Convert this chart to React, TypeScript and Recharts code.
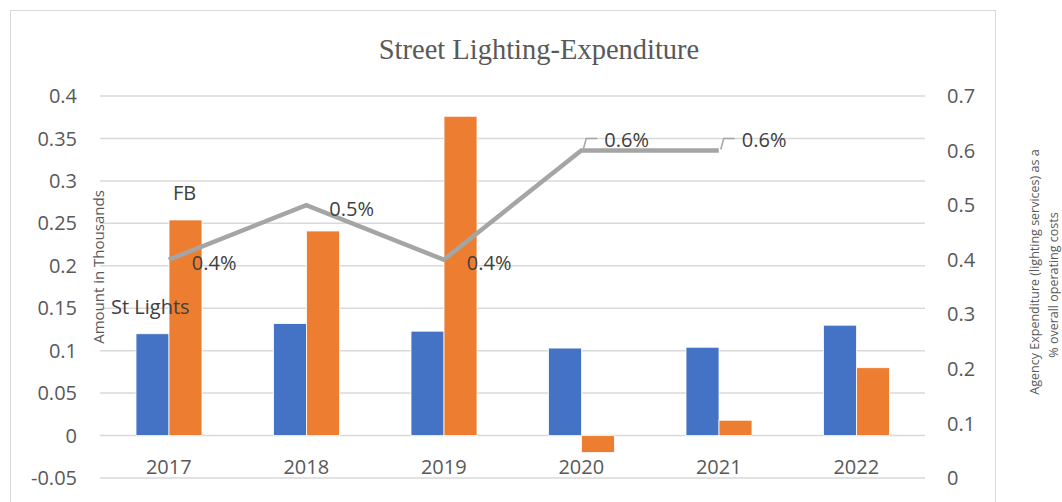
import { ComposedChart, Bar, Line, XAxis, YAxis, CartesianGrid, LabelList } from 'recharts';

const years = ['2017', '2018', '2019', '2020', '2021', '2022'];
const stLights = [0.12, 0.132, 0.123, 0.103, 0.104, 0.13];
const fb = [0.254, 0.241, 0.376, -0.02, 0.018, 0.08];
const pctCosts = [0.4, 0.5, 0.4, 0.6, 0.6, null];
const leftTicks = [-0.05, 0, 0.05, 0.1, 0.15, 0.2, 0.25, 0.3, 0.35, 0.4];
const rightTicks = [0, 0.1, 0.2, 0.3, 0.4, 0.5, 0.6, 0.7];
const leaderYears = ['2020', '2021'];

const data = years.map((year, i) => ({
  year,
  stLights: stLights[i],
  fb: fb[i],
  pct: pctCosts[i],
}));

const FONT = '"Open Sans", sans-serif';
const GREY = '#595959';

const YearTick = ({ x, y, payload }: any) => (
  <text x={x} y={y - 12} textAnchor="middle" dominantBaseline="central" fill={GREY} fontSize={20} fontFamily={FONT}>
    {payload.value}
  </text>
);

const PctLabel = (props: any) => {
  const { x, y, value, index } = props;
  if (value == null) return null;
  const leader = leaderYears.includes(years[index]);
  if (leader) {
    return (
      <g>
        <polyline
          points={`${x + 2},${y - 1} ${x + 5},${y - 12} ${x + 16},${y - 12}`}
          fill="none"
          stroke="#A5A5A5"
          strokeWidth={1.5}
        />
        <text x={x + 23} y={y - 11} dominantBaseline="central" fill="#404040" fontSize={20} fontFamily={FONT}>
          {`${value}%`}
        </text>
      </g>
    );
  }
  return (
    <text x={x + 23} y={y + 3} dominantBaseline="central" fill="#404040" fontSize={20} fontFamily={FONT}>
      {`${value}%`}
    </text>
  );
};

const RotText = ({ cx, cy, size, children }: any) => (
  <text
    x={cx}
    y={cy}
    transform={`rotate(-90 ${cx} ${cy})`}
    textAnchor="middle"
    dominantBaseline="central"
    fill={GREY}
    fontSize={size}
    fontFamily={FONT}
  >
    {children}
  </text>
);

const LeftTitle = () => (
  <RotText cx={98} cy={267} size={15}>
    Amount in Thousands
  </RotText>
);

const RightTitle = () => (
  <g>
    <RotText cx={1034} cy={272} size={12.5}>
      Agency Expenditure (lighting services) as a
    </RotText>
    <RotText cx={1053} cy={285} size={12.5}>
      % overall operating costs
    </RotText>
  </g>
);

export default function App() {
  return (
    <div style={{ position: 'absolute', left: 0, top: 0, width: 1062, height: 502, background: '#fff', overflow: 'hidden' }}>
      <div
        style={{
          position: 'absolute',
          left: 10,
          top: 10,
          width: 984,
          height: 520,
          border: '1.5px solid #D9D9D9',
        }}
      />
      <div
        style={{
          position: 'absolute',
          left: 0,
          width: 1078,
          top: 34,
          textAlign: 'center',
          fontFamily: '"Liberation Serif", serif',
          fontSize: 28.5,
          color: GREY,
        }}
      >
        Street Lighting-Expenditure
      </div>
      <ComposedChart
        width={1062}
        height={502}
        data={data}
        margin={{ top: 96, right: 0, bottom: 0, left: 0 }}
        barGap={0}
        style={{ position: 'absolute', left: 0, top: 0 }}
      >
        <CartesianGrid yAxisId="left" vertical={false} stroke="#D9D9D9" strokeWidth={1.5} />
        <XAxis
          dataKey="year"
          height={24}
          axisLine={false}
          tickLine={false}
          tickSize={0}
          tickMargin={0}
          tick={<YearTick />}
          interval={0}
        />
        <YAxis
          yAxisId="left"
          width={100}
          domain={[-0.05, 0.4]}
          ticks={leftTicks}
          axisLine={false}
          tickLine={false}
          tickSize={0}
          tickMargin={23}
          tick={{ fill: GREY, fontSize: 20, fontFamily: FONT }}
          label={<LeftTitle />}
        />
        <YAxis
          yAxisId="right"
          orientation="right"
          width={137}
          domain={[0, 0.7]}
          ticks={rightTicks}
          axisLine={false}
          tickLine={false}
          tickSize={0}
          tickMargin={22}
          tick={{ fill: GREY, fontSize: 20, fontFamily: FONT }}
          label={<RightTitle />}
        />
        <Bar yAxisId="left" dataKey="stLights" fill="#4472C4" stroke="#ffffff" strokeWidth={0.8} barSize={33} isAnimationActive={false} />
        <Bar yAxisId="left" dataKey="fb" fill="#ED7D31" stroke="#ffffff" strokeWidth={0.8} barSize={33} isAnimationActive={false} />
        <Line
          yAxisId="right"
          dataKey="pct"
          stroke="#A5A5A5"
          strokeWidth={4.5}
          dot={false}
          activeDot={false}
          isAnimationActive={false}
        >
          <LabelList dataKey="pct" content={<PctLabel />} />
        </Line>
      </ComposedChart>
      <div style={{ position: 'absolute', left: 173, top: 179, fontFamily: FONT, fontSize: 20, color: '#404040' }}>FB</div>
      <div style={{ position: 'absolute', left: 111, top: 293, fontFamily: FONT, fontSize: 20, color: '#404040' }}>St Lights</div>
    </div>
  );
}
